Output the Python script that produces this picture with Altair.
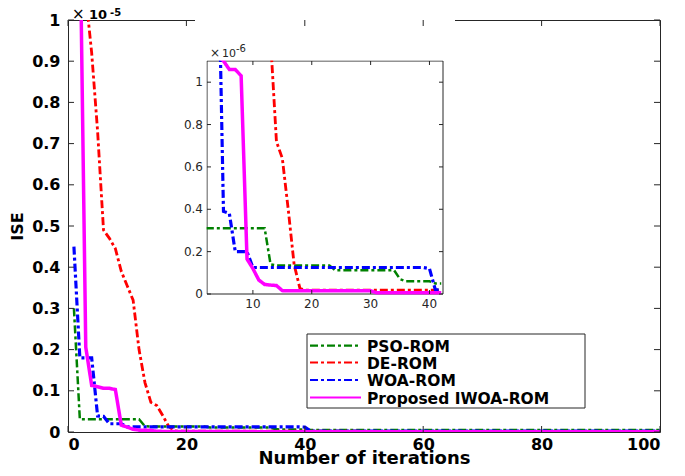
import altair as alt
import pandas as pd

# ---------------- data (ISE values in units of 1e-6) ----------------
iters = [1, 2, 3, 4, 5, 6, 7, 8, 9, 10, 11, 12, 13, 14, 15, 16, 17, 18, 19, 20,
         21, 22, 23, 24, 25, 26, 27, 28, 29, 30, 31, 32, 33, 34, 35, 36, 37, 38, 39, 40,
         41, 42, 100]

pso = [3.0, 0.31, 0.31, 0.31, 0.31, 0.31, 0.31, 0.31, 0.31, 0.31, 0.31, 0.31,
       0.14, 0.135, 0.135, 0.135, 0.135, 0.135, 0.135, 0.135, 0.135, 0.135, 0.135,
       0.112, 0.112, 0.112, 0.112, 0.112, 0.112, 0.112, 0.112, 0.112, 0.112, 0.112,
       0.07, 0.06, 0.06, 0.06, 0.06, 0.06, 0.05, 0.05, 0.05]

de = [25.0, 16.0, 10.6, 9.2, 7.3, 4.9, 4.7, 4.45, 3.9, 3.55, 3.2, 2.0, 1.2, 0.72,
      0.64, 0.40, 0.14, 0.025, 0.018, 0.018, 0.018, 0.018, 0.018, 0.018, 0.018,
      0.018, 0.018, 0.018, 0.018, 0.018, 0.018, 0.018, 0.018, 0.018, 0.018, 0.018,
      0.018, 0.018, 0.018, 0.018, 0.018, 0.018, 0.012]

woa = [4.5, 1.8, 1.8, 1.8, 0.39, 0.38, 0.2, 0.2, 0.2, 0.125, 0.125, 0.125, 0.125,
       0.125, 0.125, 0.125, 0.125, 0.125, 0.125, 0.125, 0.125, 0.125, 0.125, 0.125,
       0.125, 0.125, 0.125, 0.125, 0.125, 0.125, 0.125, 0.125, 0.125, 0.125, 0.125,
       0.125, 0.125, 0.125, 0.125, 0.12, 0.02, 0.02, 0.02]

iwoa = [30.0, 12.5, 2.06, 1.13, 1.10, 1.06, 1.06, 1.03, 0.165, 0.12, 0.066, 0.045,
        0.042, 0.04, 0.016, 0.015, 0.015, 0.015, 0.015, 0.015, 0.015, 0.015, 0.015,
        0.015, 0.015, 0.015, 0.015, 0.015, 0.015, 0.015, 0.006, 0.006, 0.006, 0.006,
        0.006, 0.006, 0.006, 0.006, 0.006, 0.006, 0.006, 0.006, 0.006]

series_names = ["PSO-ROM", "DE-ROM", "WOA-ROM", "Proposed IWOA-ROM"]
series_values = [pso, de, woa, iwoa]

main_xticks = [0, 20, 40, 60, 80, 100]
main_yticks = [0, 0.1, 0.2, 0.3, 0.4, 0.5, 0.6, 0.7, 0.8, 0.9, 1]
inset_xticks = [10, 20, 30, 40]
inset_yticks = [0, 0.2, 0.4, 0.6, 0.8, 1.0]
inset_ylabels = ["0", "0.2", "0.4", "0.6", "0.8", "1"]

# ---------------- styling / layout ----------------
colors = ["#008000", "#ff0000", "#0000ff", "#ff00ff"]
dashes = [[8, 3, 3, 3], [8, 3, 3, 3], [8, 3, 3, 3], [1, 0]]
widths = [2.5, 3.5, 3.0, 3.0]
FRAME = "#262626"
W, H = 592, 412
IX0, IX1, IY0, IY1 = 139, 375, 41, 274          # inset box inside the plot area
LX0, LX1, LY0, LY1 = 239, 517, 314, 388          # legend box inside the plot area
legend_rows = [325.7, 342.5, 360, 377.5]

rows = []
for name, vals in zip(series_names, series_values):
    for it, v in zip(iters, vals):
        rows.append({"series": name, "iter": it, "val": v})
df = pd.DataFrame(rows)

color = alt.Color("series:N", scale=alt.Scale(domain=series_names, range=colors), legend=None)
dash = alt.StrokeDash("series:N", scale=alt.Scale(domain=series_names, range=dashes), legend=None)
sw = alt.StrokeWidth("series:N", scale=alt.Scale(domain=series_names, range=widths), legend=None)

main_x = alt.Scale(domain=[0, 100], nice=False, zero=False)
main_y = alt.Scale(domain=[0, 1], nice=False, zero=False)

main_lines = alt.Chart(df).transform_calculate(v5="datum.val / 10").mark_line(
    clip=True, strokeCap="butt", strokeJoin="miter"
).encode(
    x=alt.X("iter:Q", scale=main_x, axis=alt.Axis(
        values=main_xticks, title="Number of iterations", format="d",
        labelBaseline="alphabetic", labelPadding=17,
        titleX=W / 2, titleY=31.5, titleBaseline="alphabetic", titleAlign="center",
    )),
    y=alt.Y("v5:Q", scale=main_y, axis=alt.Axis(
        values=main_yticks, title="ISE", format="~g", labelPadding=8,
        titleX=-51, titleY=H / 2, titleAngle=270, titleBaseline="middle",
        titleAlign="center", titleFontSize=16,
    )),
    color=color, strokeDash=dash, strokeWidth=sw,
    order=alt.Order("iter:Q"),
)

# ---------------- inset ----------------
inset_x = alt.Scale(domain=[2.2, 42.3], range=[IX0, IX1], nice=False, zero=False)
inset_y = alt.Scale(domain=[0, 1.1], range=[IY1, IY0], nice=False, zero=False)

one = pd.DataFrame({"a": [0]})
frame = alt.Chart(one).mark_rect(fill="white", stroke=FRAME, strokeWidth=1).encode(
    x=alt.value(IX0), x2=alt.value(IX1), y=alt.value(IY0), y2=alt.value(IY1))

inset_lines = alt.Chart(df).transform_filter(
    "datum.iter >= 2 && datum.iter <= 42"
).mark_line(clip=True, strokeCap="butt").encode(
    x=alt.X("iter:Q", scale=inset_x, axis=None),
    y=alt.Y("val:Q", scale=inset_y, axis=None),
    color=color, strokeDash=dash, strokeWidth=sw,
    order=alt.Order("iter:Q"),
)

mask = alt.Chart(one).mark_rect(fill="white").encode(
    x=alt.value(IX0 - 12), x2=alt.value(IX1 + 12), y=alt.value(0), y2=alt.value(IY0 - 0.5))
mask_left = alt.Chart(one).mark_rect(fill="white").encode(
    x=alt.value(IX0 - 12), x2=alt.value(IX0 - 0.5), y=alt.value(0), y2=alt.value(IY1))

ixt = alt.Chart(pd.DataFrame({"t": inset_xticks}))
iyt = alt.Chart(pd.DataFrame({"t": inset_yticks, "lab": inset_ylabels}))
ix_enc = alt.X("t:Q", scale=inset_x, axis=None)
iy_enc = alt.Y("t:Q", scale=inset_y, axis=None)

inset_ticks = [
    ixt.mark_rule(color=FRAME).encode(x=ix_enc, y=alt.value(IY1), y2=alt.value(IY1 - 4)),
    ixt.mark_rule(color=FRAME).encode(x=ix_enc, y=alt.value(IY0), y2=alt.value(IY0 + 4)),
    iyt.mark_rule(color=FRAME).encode(y=iy_enc, x=alt.value(IX0), x2=alt.value(IX0 + 4)),
    iyt.mark_rule(color=FRAME).encode(y=iy_enc, x=alt.value(IX1), x2=alt.value(IX1 - 4)),
    ixt.mark_text(font="DejaVu Sans", fontSize=12, color=FRAME, baseline="alphabetic").encode(
        x=ix_enc, y=alt.value(IY1 + 14), text="t:Q"),
    iyt.mark_text(font="DejaVu Sans", fontSize=12, color=FRAME, align="right", baseline="middle").encode(
        y=iy_enc, x=alt.value(IX0 - 4), text="lab:N"),
]

inset_exp = [
    alt.Chart(one).mark_text(text="×", font="DejaVu Sans", fontSize=12, color=FRAME,
                             align="left", baseline="alphabetic").encode(
        x=alt.value(IX0 + 3), y=alt.value(IY0 - 4)),
    alt.Chart(one).mark_text(text="10", font="DejaVu Sans", fontSize=11, color=FRAME,
                             align="left", baseline="alphabetic").encode(
        x=alt.value(IX0 + 15), y=alt.value(IY0 - 4)),
    alt.Chart(one).mark_text(text="-6", font="DejaVu Sans", fontSize=10, color=FRAME,
                             align="left", baseline="alphabetic").encode(
        x=alt.value(IX0 + 29), y=alt.value(IY0 - 9)),
]

inset = alt.layer(frame, inset_lines, mask, mask_left, *inset_ticks, *inset_exp)

# ---------------- main ticks & exponent ----------------
mxt = alt.Chart(pd.DataFrame({"t": main_xticks}))
myt = alt.Chart(pd.DataFrame({"t": main_yticks}))
mx_enc = alt.X("t:Q", scale=main_x, axis=None)
my_enc = alt.Y("t:Q", scale=main_y, axis=None)
TL = 6
main_ticks = alt.layer(
    mxt.mark_rule(color=FRAME).encode(x=mx_enc, y=alt.value(H), y2=alt.value(H - TL)),
    mxt.mark_rule(color=FRAME).encode(x=mx_enc, y=alt.value(0), y2=alt.value(TL)),
    myt.mark_rule(color=FRAME).encode(y=my_enc, x=alt.value(0), x2=alt.value(TL)),
    myt.mark_rule(color=FRAME).encode(y=my_enc, x=alt.value(W), x2=alt.value(W - TL)),
    alt.Chart(one).mark_text(text="×", font="DejaVu Sans", fontSize=15, color="black",
                             align="left", baseline="alphabetic").encode(
        x=alt.value(4), y=alt.value(-1.5)),
    alt.Chart(one).mark_text(text="10", font="DejaVu Sans", fontSize=13, fontWeight="bold",
                             color="black", align="left", baseline="alphabetic").encode(
        x=alt.value(21), y=alt.value(-1.5)),
    alt.Chart(one).mark_text(text="-5", font="DejaVu Sans", fontSize=10, fontWeight="bold",
                             color="black", align="left", baseline="alphabetic").encode(
        x=alt.value(42), y=alt.value(-4.5)),
)

# ---------------- legend (drawn as a boxed key) ----------------
legend_parts = [
    alt.Chart(one).mark_rect(fill="white", stroke=FRAME, strokeWidth=1).encode(
        x=alt.value(LX0), x2=alt.value(LX1), y=alt.value(LY0), y2=alt.value(LY1))
]
for name, ry in zip(series_names, legend_rows):
    entry = alt.Chart(pd.DataFrame({"series": [name]}))
    legend_parts.append(entry.mark_rule(strokeCap="butt").encode(
        x=alt.value(LX0 + 3), x2=alt.value(LX0 + 54), y=alt.value(ry),
        color=color, strokeDash=dash, strokeWidth=alt.value(2.2)))
    legend_parts.append(entry.mark_text(
        font="DejaVu Sans", fontSize=15.5, fontWeight="bold", color="black",
        align="left", baseline="middle").encode(
        x=alt.value(LX0 + 60), y=alt.value(ry + 1), text="series:N"))
legend_layer = alt.layer(*legend_parts)

chart = alt.layer(main_lines, inset, main_ticks, legend_layer).resolve_scale(
    x="independent", y="independent"
).properties(
    width=W, height=H,
    autosize=alt.AutoSizeParams(type="none"),
    padding={"left": 60, "top": 12, "right": 17, "bottom": 36},
).configure_view(
    stroke=FRAME, strokeWidth=1
).configure_axis(
    domain=False, ticks=False, grid=False,
    labelFont="DejaVu Sans", labelFontWeight="bold", labelFontSize=16, labelColor="black",
    titleFont="DejaVu Sans", titleFontWeight="bold", titleFontSize=18, titleColor="black",
)

chart.save("out.html", embed_options={"renderer": "svg", "actions": False})
